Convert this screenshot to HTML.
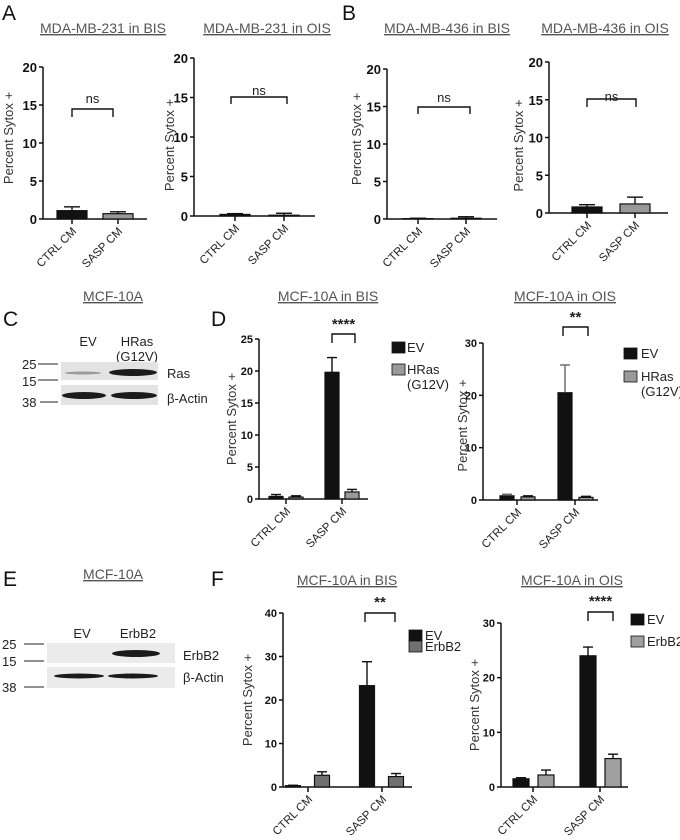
<!DOCTYPE html>
<html><head><meta charset="utf-8">
<style>
body{margin:0;background:#fff;width:680px;height:840px;overflow:hidden;font-family:"Liberation Sans",sans-serif}
svg{position:absolute;left:0;top:0}
.t{font-size:14px;fill:#555;text-decoration:underline}
.pl{font-size:21px;fill:#111}
.tk{font-size:13px;font-weight:bold;fill:#111}
.tkn{font-size:11px;font-weight:bold;fill:#111;font-family:"Liberation Sans Narrow","Liberation Sans",sans-serif}
.yl{font-size:13px;fill:#333}
.cl{font-size:11.5px;fill:#222}
.lg{font-size:13px;fill:#222}
</style></head><body>
<svg id="fig" width="680" height="840" viewBox="0 0 680 840">
 <g>
  <text class="pl" x="2" y="20">A</text><text class="pl" x="342" y="20">B</text>
  <text class="pl" x="3" y="326">C</text><text class="pl" x="211" y="326">D</text>
  <text class="pl" x="3" y="586">E</text><text class="pl" x="211" y="586">F</text>
 </g>
 <g>
  <text class="t" x="113" y="301" text-anchor="middle">MCF-10A</text>
  <text class="lg" x="88" y="346" text-anchor="middle" font-size="14">EV</text>
  <text class="lg" x="137" y="346" text-anchor="middle" font-size="14">HRas</text>
  <text class="lg" x="137" y="361" text-anchor="middle" font-size="14">(G12V)</text>
  <rect x="61" y="362" width="97" height="18" fill="#e3e3e3"/>
  <rect x="61" y="385" width="97" height="20" fill="#e3e3e3"/>
  <ellipse cx="83" cy="373" rx="18" ry="1.5" fill="#999"/>
  <ellipse cx="133" cy="372.5" rx="24" ry="3.5" fill="#1a1a1a"/>
  <ellipse cx="84" cy="395.5" rx="22" ry="3.5" fill="#1a1a1a"/>
  <ellipse cx="134" cy="395.5" rx="23" ry="3.5" fill="#1a1a1a"/>
  <text class="lg" x="167" y="378" font-size="14">Ras</text>
  <text class="lg" x="167" y="403" font-size="14">β-Actin</text>
  <text class="lg" x="22" y="369" font-size="14">25</text><line x1="38" y1="364" x2="58" y2="364" stroke="#222"/>
  <text class="lg" x="22" y="386" font-size="14">15</text><line x1="38" y1="380" x2="58" y2="380" stroke="#222"/>
  <text class="lg" x="22" y="407" font-size="14">38</text><line x1="40" y1="402" x2="58" y2="402" stroke="#222"/>
 </g>
 <g>
  <text class="t" x="113" y="579" text-anchor="middle">MCF-10A</text>
  <text class="lg" x="82" y="638" text-anchor="middle" font-size="14">EV</text>
  <text class="lg" x="138" y="638" text-anchor="middle" font-size="14">ErbB2</text>
  <rect x="47" y="643" width="128" height="20" fill="#ebebeb"/>
  <rect x="47" y="667" width="128" height="21" fill="#ebebeb"/>
  <ellipse cx="136" cy="653.5" rx="24" ry="3.5" fill="#1a1a1a"/>
  <ellipse cx="79" cy="676" rx="25" ry="2.5" fill="#1a1a1a"/>
  <ellipse cx="133" cy="676" rx="25" ry="2.5" fill="#1a1a1a"/>
  <text class="lg" x="183" y="660" font-size="14">ErbB2</text>
  <text class="lg" x="183" y="682" font-size="14">β-Actin</text>
  <text class="lg" x="2" y="649" font-size="13">25</text><line x1="24" y1="644" x2="44" y2="644" stroke="#222"/>
  <text class="lg" x="2" y="666" font-size="13">15</text><line x1="24" y1="661" x2="44" y2="661" stroke="#222"/>
  <text class="lg" x="2" y="692" font-size="13">38</text><line x1="24" y1="687" x2="44" y2="687" stroke="#222"/>
 </g>
</svg>
<script>
// ---- data ----
const cats = ["CTRL CM","SASP CM"];
const a1Vals=[1.1,0.7], a1Errs=[1.6,0.95], a1Ticks=[0,5,10,15,20];
const a2Vals=[0.2,0.1], a2Errs=[0.3,0.35], a2Ticks=[0,5,10,15,20];
const b1Vals=[0.05,0.1], b1Errs=[0.1,0.3], b1Ticks=[0,5,10,15,20];
const b2Vals=[0.8,1.2], b2Errs=[1.1,2.1], b2Ticks=[0,5,10,15,20];
const d1Ev=[0.4,19.8], d1EvErr=[0.7,22.1], d1Ras=[0.3,1.1], d1RasErr=[0.5,1.5], d1Ticks=[0,5,10,15,20,25];
const d2Ev=[0.8,20.5], d2EvErr=[1.1,25.8], d2Ras=[0.6,0.5], d2RasErr=[0.8,0.7], d2Ticks=[0,10,20,30];
const f1Ev=[0.3,23.3], f1EvErr=[0.4,28.8], f1Erb=[2.7,2.4], f1ErbErr=[3.5,3.1], f1Ticks=[0,10,20,30,40];
const f2Ev=[1.5,24.0], f2EvErr=[1.7,25.6], f2Erb=[2.2,5.2], f2ErbErr=[3.1,6.0], f2Ticks=[0,10,20,30];

const NS="http://www.w3.org/2000/svg";
const fig=document.getElementById('fig');
function mk(tag,attrs,parent,txt){const e=document.createElementNS(NS,tag);for(const k in attrs)e.setAttribute(k,attrs[k]);if(txt!==undefined)e.textContent=txt;(parent||fig).appendChild(e);return e;}

function chart(c){
  const g=mk('g',{});
  
  
  const max=c.ticks[c.ticks.length-1];
  const y=v=>c.y0-(v/max)*(c.y0-c.yTop);
  const t=mk('text',{class:'t',x:c.titleX,y:c.titleY,'text-anchor':'middle'},g,c.title);
  
  
  mk('line',{x1:c.x0,y1:c.yTop,x2:c.x0,y2:c.y0,stroke:'#111','stroke-width':1.5},g);
  mk('line',{x1:c.x0,y1:c.y0,x2:c.x1,y2:c.y0,stroke:'#111','stroke-width':1.5},g);
  c.ticks.forEach(v=>{
    mk('line',{x1:c.x0-4,y1:y(v),x2:c.x0,y2:y(v),stroke:'#111','stroke-width':1.5},g);
    const tl=mk('text',{class:c.narrow?'tkn':'tk',x:c.x0-6,y:y(v)+(c.narrow?4:5),'text-anchor':'end'},g,v);
    
    
  });
  const yl=mk('text',{class:'yl',transform:`translate(${c.ylX},${(c.y0+c.yTop)/2+(c.ylDy||0)}) rotate(-90)`,'text-anchor':'middle'},g,'Percent Sytox +');
  
  
  cats.forEach((cat,i)=>{
    const cx=c.catX[0]+i*(c.catX[1]-c.catX[0]);
    mk('line',{x1:cx,y1:c.y0,x2:cx,y2:c.y0+5,stroke:'#111','stroke-width':1.5},g);
    const cl=mk('text',{class:'cl','text-anchor':'end',transform:`translate(${cx+5},${c.y0+13}) rotate(-45)`},g,cat);
    
    
    c.series.forEach((s,si)=>{
      const bx=cx+s.off-c.bw/2, v=s.vals[i], e=s.errs[i];
      const fill=Array.isArray(s.fill)?s.fill[i]:s.fill;
      const bar=mk('rect',{x:bx,y:y(v),width:c.bw,height:c.y0-y(v),fill:fill,stroke:'#111','stroke-width':1.2},g);
      
      
      const ec=cx+s.off;
      mk('line',{x1:ec,y1:y(v),x2:ec,y2:y(e),stroke:s.errCol||'#111','stroke-width':1.4},g);
      mk('line',{x1:ec-c.cap,y1:y(e),x2:ec+c.cap,y2:y(e),stroke:s.errCol||'#111','stroke-width':1.4},g);
    });
  });
  const b=c.br;
  mk('path',{d:`M${b.x1},${b.yb} L${b.x1},${b.y} L${b.x2},${b.y} L${b.x2},${b.yb}`,fill:'none',stroke:'#111','stroke-width':1.4},g);
  const st=mk('text',{x:(b.x1+b.x2)/2,y:b.ty,'text-anchor':'middle','font-size':b.star?15:13,'font-weight':b.star?'bold':'normal',fill:'#222'},g,b.label);
  
  
  if(c.legend){c.legend.forEach(l=>{
    const lr=mk('rect',{x:l.x,y:l.y,width:13,height:11,fill:l.fill,stroke:'#111','stroke-width':0.8},g);
    
    
    l.lines.forEach((tx,k)=>{
      const lt=mk('text',{class:'lg',x:l.tx,y:l.y+10+k*15,'font-size':l.fs||13},g,tx);
      
      
    });
  });}
}

const AB=['#111','#999'];
chart({name:'chart-a1',title:'MDA-MB-231 in BIS',titleX:103,titleY:33,x0:43,x1:147,yTop:67,y0:219,catX:[72,118],ticks:a1Ticks,ylX:13,ylDy:-5,bw:30,cap:8,
  series:[{key:'val',vals:a1Vals,errs:a1Errs,fill:AB,off:0}],br:{x1:72,x2:113,y:109,yb:117,ty:103,label:'ns'}});
chart({name:'chart-a2',title:'MDA-MB-231 in OIS',titleX:267,titleY:33,x0:194,x1:315,yTop:58,y0:216,catX:[235,284],ticks:a2Ticks,ylX:174,ylDy:8,bw:30,cap:8,
  series:[{key:'val',vals:a2Vals,errs:a2Errs,fill:AB,off:0}],br:{x1:231,x2:287,y:97,yb:104,ty:95,label:'ns'}});
chart({name:'chart-b1',title:'MDA-MB-436 in BIS',titleX:447,titleY:33,x0:387,x1:497,yTop:69,y0:219,catX:[418,466],ticks:b1Ticks,ylX:361,ylDy:-5,bw:30,cap:8,
  series:[{key:'val',vals:b1Vals,errs:b1Errs,fill:AB,off:0}],br:{x1:418,x2:470,y:107,yb:114,ty:102,label:'ns'}});
chart({name:'chart-b2',title:'MDA-MB-436 in OIS',titleX:605,titleY:33,x0:549,x1:668,yTop:62,y0:213,catX:[587,635],ticks:b2Ticks,ylX:523,ylDy:8,bw:30,cap:8,
  series:[{key:'val',vals:b2Vals,errs:b2Errs,fill:AB,off:0}],br:{x1:587,x2:636,y:99,yb:107,ty:101,label:'ns'}});

chart({name:'chart-d1',title:'MCF-10A in BIS',titleX:328,titleY:301,x0:259,x1:368,yTop:339,y0:499,catX:[286,342],ticks:d1Ticks,ylX:236,bw:14,cap:5,narrow:true,
  series:[{key:'ev',vals:d1Ev,errs:d1EvErr,fill:'#111',off:-10},{key:'hras',vals:d1Ras,errs:d1RasErr,fill:'#999',off:10}],
  br:{x1:332,x2:355,y:334,yb:343,ty:329,label:'****',star:true},
  legend:[{x:392,y:342,fill:'#111',tx:407,lines:['EV']},{x:392,y:364,fill:'#999',tx:407,lines:['HRas','(G12V)']}]});
chart({name:'chart-d2',title:'MCF-10A in OIS',titleX:565,titleY:301,x0:483,x1:598,yTop:343,y0:500,catX:[517,575],ticks:d2Ticks,ylX:467,ylDy:4,bw:14,cap:5,narrow:true,
  series:[{key:'ev',vals:d2Ev,errs:d2EvErr,fill:'#111',off:-10,errCol:'#666'},{key:'hras',vals:d2Ras,errs:d2RasErr,fill:'#999',off:11}],
  br:{x1:563,x2:588,y:327,yb:336,ty:322,label:'**',star:true},
  legend:[{x:624,y:348,fill:'#111',tx:641,lines:['EV']},{x:624,y:371,fill:'#999',tx:641,fs:12.5,lines:['HRas','(G12V)']}]});
chart({name:'chart-f1',title:'MCF-10A in BIS',titleX:347,titleY:585,x0:283,x1:412,yTop:613,y0:787,catX:[308,382],ticks:f1Ticks,ylX:252,bw:15,cap:5,narrow:true,
  series:[{key:'ev',vals:f1Ev,errs:f1EvErr,fill:'#111',off:-15},{key:'erbb2',vals:f1Erb,errs:f1ErbErr,fill:'#707070',off:14}],
  br:{x1:365,x2:395,y:613,yb:622,ty:607,label:'**',star:true},
  legend:[{x:409,y:630,fill:'#111',tx:425,lines:['EV']},{x:409,y:641,fill:'#707070',tx:425,lines:['ErbB2']}]});
chart({name:'chart-f2',title:'MCF-10A in OIS',titleX:572,titleY:585,x0:501,x1:628,yTop:623,y0:787,catX:[533,600],ticks:f2Ticks,ylX:479,bw:16,cap:5,narrow:true,
  series:[{key:'ev',vals:f2Ev,errs:f2EvErr,fill:'#111',off:-12},{key:'erbb2',vals:f2Erb,errs:f2ErbErr,fill:'#a0a0a0',off:13}],
  br:{x1:588,x2:613,y:612,yb:621,ty:606,label:'****',star:true},
  legend:[{x:631,y:614,fill:'#111',tx:647,lines:['EV']},{x:631,y:636,fill:'#a0a0a0',tx:647,fs:12.5,lines:['ErbB2']}]});
</script>
</body></html>
